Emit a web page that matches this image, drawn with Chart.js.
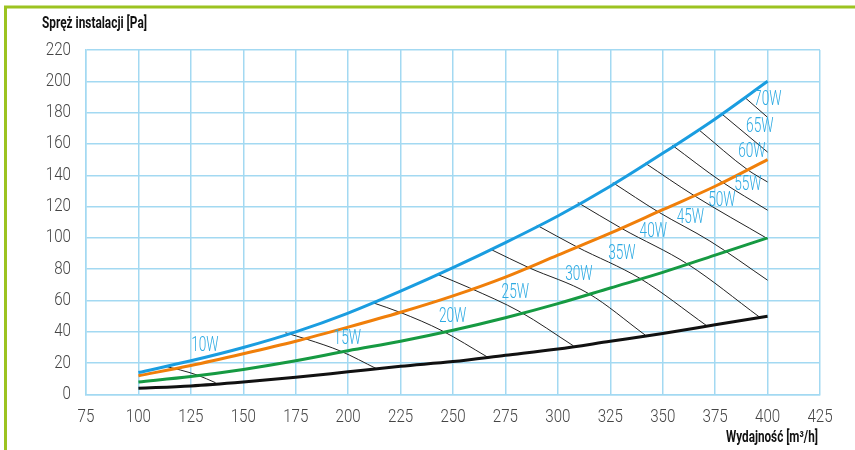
<!DOCTYPE html>
<html>
<head>
<meta charset="utf-8">
<script src="https://cdn.jsdelivr.net/npm/chart.js@4"></script>
<style>
  html, body { margin: 0; padding: 0; background: #fff; }
  canvas { display: block; }
</style>
</head>
<body>
<canvas id="myChart" width="855" height="450"></canvas>
<script>
// values
const flow = [100, 125, 150, 175, 200, 225, 250, 275, 300, 325, 350, 375, 400];
const curveBlue = [14, 21.5, 30, 40, 52, 66, 81, 97, 114, 133, 154, 176, 200];
const curveOrange = [12, 18.5, 26, 34, 43, 52.5, 63, 75, 89, 103, 118, 133, 150];
const curveGreen = [8, 11.5, 16, 21.5, 28, 34, 41, 49, 58, 68, 78, 89, 100];
const curveBlack = [4, 5.5, 8, 11, 14.5, 18, 21, 25, 29, 34, 39, 44.5, 50];

// iso-power lines (W)
const wattLabels = ["10W", "15W", "20W", "25W", "30W", "35W", "40W", "45W", "50W", "55W", "60W", "65W", "70W"];
const isoX = [
  [113.8, 120.1, 128.1, 136.8],
  [170.1, 180.5, 196.4, 213.5],
  [211.4, 224.9, 244.8, 266.2],
  [242.4, 257.9, 282, 307.4],
  [267.8, 286, 314.6, 341.6],
  [290, 309, 339.2, 371],
  [309.5, 330.5, 362.2, 396],
  [326.2, 347.9, 372.5, 400],
  [341.6, 365, 400],
  [354.6, 378, 400],
  [367, 390.8, 400],
  [378.4, 400],
  [389.5, 400]
];
const isoY = [
  [17.7, 15.6, 12.4, 7.5],
  [39.4, 35.2, 27.7, 16.5],
  [58.8, 52.4, 40.7, 24.1],
  [76.8, 68.1, 52.8, 31.1],
  [92.8, 81.1, 64.5, 38],
  [108.1, 94.3, 74.1, 43.9],
  [122.6, 106, 83, 49.6],
  [135.3, 116.6, 98, 73],
  [147.8, 127, 99.5],
  [159.1, 136, 117.7],
  [169.3, 143.2, 135.7],
  [178.9, 154.8],
  [189.3, 177]
];
const labelX = [131.7, 199.6, 249.8, 279.7, 310, 330.5, 345.5, 363.2, 378.2, 390.6, 392.5, 396.3, 400.1];
const labelY = [30.7, 35.3, 49.4, 64.8, 76.2, 89.5, 103.8, 112.8, 123.4, 133.4, 154.7, 170.8, 188.2];

const xTicks = { min: 75, max: 425, step: 25 };
const yTicks = { min: 0, max: 220, step: 20 };

const gridColor = "#a3d9f2";
const face = "Roboto, 'Liberation Sans', sans-serif";

function pts(xs, ys) {
  return xs.map((x, i) => ({ x: x, y: ys[i] }));
}

// squeezed text, the original uses a condensed face
function squeezed(ctx, text, x, y, align, sx) {
  ctx.save();
  ctx.translate(x, y);
  ctx.scale(sx, 1);
  ctx.textAlign = align;
  ctx.fillText(text, 0, 0);
  ctx.restore();
}
function fitted(ctx, text, x, y, align, w) {
  squeezed(ctx, text, x, y, align, w / ctx.measureText(text).width);
}

const mainCurves = [
  { data: curveBlue, color: "#1a9de0" },
  { data: curveOrange, color: "#f07f0a" },
  { data: curveGreen, color: "#169a42" },
  { data: curveBlack, color: "#111111" }
];

const datasets = [];
mainCurves.forEach((c) => {
  datasets.push({
    data: pts(flow, c.data),
    borderColor: c.color,
    borderWidth: 3,
    pointRadius: 0,
    cubicInterpolationMode: "monotone",
    fill: false
  });
});
isoX.forEach((xs, i) => {
  datasets.push({
    data: pts(xs, isoY[i]),
    borderColor: "#222",
    borderWidth: 1,
    pointRadius: 0,
    cubicInterpolationMode: "monotone",
    fill: false
  });
});

const frameAndText = {
  id: "frameAndText",
  beforeDraw(chart) {
    const ctx = chart.ctx;
    ctx.save();
    ctx.fillStyle = "#fff";
    ctx.fillRect(0, 0, chart.width, chart.height);
    ctx.strokeStyle = "#9cc320";
    ctx.lineWidth = 3;
    ctx.beginPath();
    ctx.moveTo(855, 7);
    ctx.lineTo(5.5, 7);
    ctx.lineTo(5.5, 450);
    ctx.stroke();
    ctx.restore();
  },
  afterDatasetsDraw(chart) {
    const ctx = chart.ctx;
    const xs = chart.scales.x;
    const ys = chart.scales.y;
    ctx.save();
    ctx.textBaseline = "middle";

    // tick labels
    ctx.fillStyle = "#454545";
    ctx.font = "300 18px " + face;
    xs.ticks.forEach((t) => {
      squeezed(ctx, String(t.value), xs.getPixelForValue(t.value), 417, "center", 0.84);
    });
    ys.ticks.forEach((t) => {
      squeezed(ctx, String(t.value), 71, ys.getPixelForValue(t.value), "right", 0.84);
    });

    // power labels
    ctx.fillStyle = "#2eaae2";
    ctx.font = "300 19.5px " + face;
    wattLabels.forEach((t, i) => {
      squeezed(ctx, t, xs.getPixelForValue(labelX[i]), ys.getPixelForValue(labelY[i]), "center", 0.7);
    });

    // axis titles
    ctx.fillStyle = "#111";
    ctx.font = "bold 16px " + face;
    fitted(ctx, "Spręż instalacji [Pa]", 42, 24, "left", 105);
    fitted(ctx, "Wydajność [m³/h]", 818, 438, "right", 92);
    ctx.restore();
  }
};

new Chart(document.getElementById("myChart").getContext("2d"), {
  type: "line",
  data: { datasets: datasets },
  options: {
    responsive: false,
    animation: false,
    layout: { padding: { top: 50, right: 35, left: 0, bottom: 0 } },
    plugins: { legend: { display: false }, tooltip: { enabled: false } },
    scales: {
      x: {
        type: "linear",
        min: xTicks.min,
        max: xTicks.max,
        border: { color: gridColor, width: 1.5 },
        grid: { color: gridColor, lineWidth: 1.5, drawTicks: false },
        ticks: { stepSize: xTicks.step, display: false },
        afterFit(scale) { scale.height = 55.5; }
      },
      y: {
        min: yTicks.min,
        max: yTicks.max,
        border: { color: gridColor, width: 1.5 },
        grid: { color: gridColor, lineWidth: 1.5, drawTicks: false },
        ticks: { stepSize: yTicks.step, display: false },
        afterFit(scale) { scale.width = 86; }
      }
    }
  },
  plugins: [frameAndText]
});
</script>
</body>
</html>
